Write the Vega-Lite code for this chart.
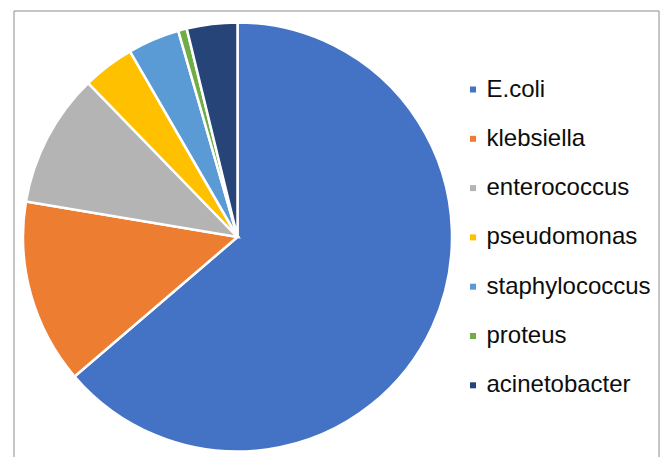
{
  "$schema": "https://vega.github.io/schema/vega-lite/v6.json",
  "autosize": {"type": "none"},
  "padding": {"left": 14, "top": 11, "right": 2, "bottom": -4},
  "width": 645,
  "height": 450,
  "background": "white",
  "config": {
    "view": {"stroke": null},
    "font": "Liberation Sans"
  },
  "layer": [
    {
      "data": {"values": [{"frame": "chart area"}]},
      "mark": {
        "type": "rect",
        "fill": null,
        "stroke": "#8c8c8c",
        "strokeWidth": 1
      },
      "encoding": {}
    },
    {
      "data": {
        "values": [
          {"organism": "E.coli", "percent": 63.7},
          {"organism": "klebsiella", "percent": 13.9},
          {"organism": "enterococcus", "percent": 10.1},
          {"organism": "pseudomonas", "percent": 3.9},
          {"organism": "staphylococcus", "percent": 3.9},
          {"organism": "proteus", "percent": 0.65},
          {"organism": "acinetobacter", "percent": 3.8}
        ]
      },
      "transform": [
        {"window": [{"op": "row_number", "as": "slice_order"}]}
      ],
      "mark": {
        "type": "arc",
        "x": 223.5,
        "y": 226,
        "radius": 214.5,
        "stroke": "white",
        "strokeWidth": 2.5
      },
      "encoding": {
        "theta": {"field": "percent", "type": "quantitative", "stack": true},
        "order": {"field": "slice_order", "type": "quantitative", "sort": "ascending"},
        "color": {
          "field": "organism",
          "type": "nominal",
          "sort": null,
          "scale": {
            "domain": ["E.coli", "klebsiella", "enterococcus", "pseudomonas", "staphylococcus", "proteus", "acinetobacter"],
            "range": ["#4472C4", "#ED7D31", "#B4B4B4", "#FFC000", "#5B9BD5", "#70AD47", "#264478"]
          },
          "legend": {
            "title": null,
            "orient": "none",
            "legendX": 447,
            "legendY": 66.5,
            "symbolType": "square",
            "symbolSize": 36,
            "symbolStrokeWidth": 0,
            "labelFont": "Liberation Sans",
            "labelFontSize": 24,
            "labelColor": "#0d0d0d",
            "labelOffset": 1.5,
            "rowPadding": 25.3,
            "labelLimit": 300
          }
        }
      }
    }
  ]
}
